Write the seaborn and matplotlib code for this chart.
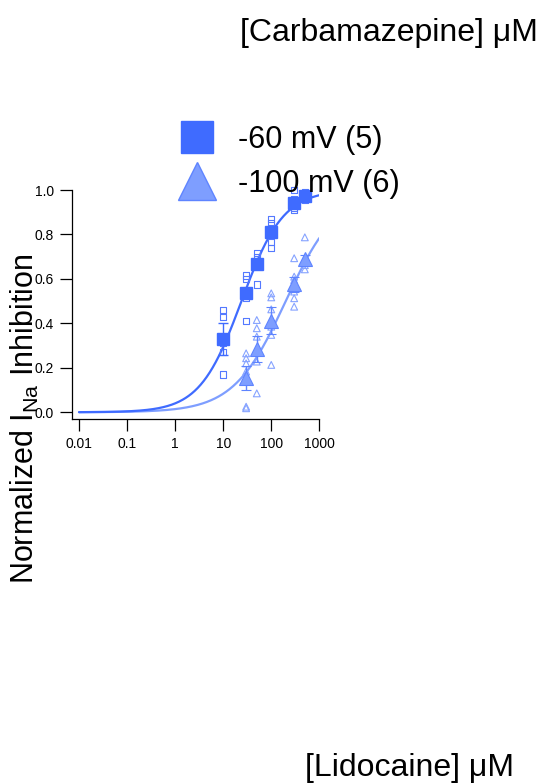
import numpy as np
import pandas as pd
import matplotlib
matplotlib.use("Agg")
import matplotlib.pyplot as plt
from matplotlib.lines import Line2D
import seaborn as sns

# ---- data -------------------------------------------------------------
conc_60 = [10, 30, 50, 100, 300, 500]          # lidocaine, uM
mean_60 = [0.328, 0.538, 0.668, 0.810, 0.943, 0.973]
sem_60 = [0.072, 0.020, 0.020, 0.020, 0.012, 0.008]
cells_60 = [
    [0.46, 0.43, 0.31, 0.27, 0.17],
    [0.615, 0.60, 0.55, 0.515, 0.41],
    [0.715, 0.70, 0.67, 0.66, 0.575],
    [0.87, 0.85, 0.83, 0.765, 0.74],
    [1.00, 0.96, 0.94, 0.92, 0.91],
    [0.99, 0.98, 0.975, 0.965, 0.955],
]

conc_100 = [30, 50, 100, 300, 500]
mean_100 = [0.155, 0.285, 0.412, 0.575, 0.688]
sem_100 = [0.055, 0.060, 0.062, 0.035, 0.020]
cells_100 = [
    [0.265, 0.243, 0.22, 0.183, 0.025, 0.018],
    [0.415, 0.378, 0.34, 0.273, 0.228, 0.085],
    [0.535, 0.517, 0.463, 0.385, 0.348, 0.213],
    [0.693, 0.61, 0.595, 0.543, 0.513, 0.475],
    [0.787, 0.69, 0.685, 0.68, 0.662, 0.643],
]

# Hill fit parameters (IC50 in uM, Hill coefficient)
ic50_60, hill_60 = 24.0, 1.0
ic50_100, hill_100 = 200.0, 0.8

labels = ["-60 mV (5)", "-100 mV (6)"]
x_ticks = [0.01, 0.1, 1, 10, 100, 1000]
x_ticklabels = ["0.01", "0.1", "1", "10", "100", "1000"]
y_ticks = [0.0, 0.2, 0.4, 0.6, 0.8, 1.0]
y_ticklabels = ["0.0", "0.2", "0.4", "0.6", "0.8", "1.0"]

# ---- style ------------------------------------------------------------
sns.set_theme(style="ticks")
plt.rcParams["font.family"] = ["Liberation Sans", "DejaVu Sans"]
plt.rcParams["mathtext.fontset"] = "custom"
plt.rcParams["mathtext.rm"] = "Liberation Sans"
plt.rcParams["mathtext.it"] = "Liberation Sans:italic"
plt.rcParams["text.color"] = "black"

c60 = "#3F6BFF"
c60_open = "#5479FF"
c100 = "#7E9EFF"
c100_edge = "#5E84FF"
c100_open = "#86A3FF"


def cells_frame(conc, cells):
    rows = [(c, v) for c, vals in zip(conc, cells) for v in vals]
    return pd.DataFrame(rows, columns=["conc", "inhib"])


def hill(x, ic50, n):
    r = (x / ic50) ** n
    return r / (1.0 + r)


grid = np.logspace(-2, 3, 400)
fit_60 = pd.DataFrame({"conc": grid, "inhib": hill(grid, ic50_60, hill_60)})
fit_100 = pd.DataFrame({"conc": grid, "inhib": hill(grid, ic50_100, hill_100)})

fig = plt.figure(figsize=(5.42, 7.84), dpi=100)
ax = fig.add_axes([72.3 / 542, 1 - 418.7 / 784, 247 / 542, 228.7 / 784])
ax.set_xscale("log")

# fitted dose-response curves
sns.lineplot(data=fit_100, x="conc", y="inhib", color=c100, lw=1.6, ax=ax, zorder=2)
sns.lineplot(data=fit_60, x="conc", y="inhib", color=c60, lw=1.6, ax=ax, zorder=2)

# individual cells (open symbols)
sns.scatterplot(data=cells_frame(conc_100, cells_100), x="conc", y="inhib",
                marker="^", s=24, facecolor="none", edgecolor=c100_open,
                linewidth=0.8, ax=ax, zorder=3, clip_on=False)
sns.scatterplot(data=cells_frame(conc_60, cells_60), x="conc", y="inhib",
                marker="s", s=20, facecolor="none", edgecolor=c60_open,
                linewidth=0.8, ax=ax, zorder=3, clip_on=False)

# means with SEM
ax.errorbar(conc_100, mean_100, yerr=sem_100, fmt="^", ms=10, mfc=c100,
            mec=c100_edge, mew=0.8, ecolor=c100_edge, elinewidth=1.0,
            capsize=3.5, capthick=1.0, zorder=5, clip_on=False)
ax.errorbar(conc_60, mean_60, yerr=sem_60, fmt="s", ms=8.2, mfc=c60,
            mec=c60, ecolor=c60, elinewidth=1.0, capsize=3.5, capthick=1.0,
            zorder=6, clip_on=False)

ax.set_xlim(10 ** -2.14, 1000)
ax.set_ylim(-0.029, 1.0)
ax.set_xticks(x_ticks)
ax.set_xticklabels(x_ticklabels)
ax.set_yticks(y_ticks)
ax.set_yticklabels(y_ticklabels)
ax.xaxis.set_minor_locator(matplotlib.ticker.NullLocator())
ax.set_xlabel("")
ax.set_ylabel("")
sns.despine(ax=ax)
for side in ("left", "bottom"):
    ax.spines[side].set_color("black")
    ax.spines[side].set_linewidth(0.9)
ax.tick_params(axis="both", direction="out", length=8.5, width=0.9,
               color="black", labelsize=10, labelcolor="black")
ax.tick_params(axis="x", pad=5)
ax.tick_params(axis="y", pad=4.5)
ax.set_facecolor("none")

# legend
handles = [
    Line2D([], [], ls="", marker="s", ms=23, mfc=c60, mec=c60),
    Line2D([], [], ls="", marker="^", ms=27, mfc=c100, mec=c100_edge, mew=1.0),
]
fig.legend(handles, labels, loc="upper left",
           bbox_to_anchor=(178.6 / 542, 1 - 125 / 784), frameon=False,
           fontsize=22, handlelength=1.2, handletextpad=0.74,
           labelspacing=0.46, borderpad=0, borderaxespad=0)

# axis titles
fig.text(538 / 542, 1 - 33 / 784, "[Carbamazepine] μM", ha="right",
         va="center", fontsize=23)
fig.text(514 / 542, 1 - 768 / 784, "[Lidocaine] μM", ha="right",
         va="center", fontsize=23)
fig.text(25 / 542, 1 - 418.5 / 784, r"Normalized I$_{\rm Na}$ Inhibition",
         rotation=90, ha="center", va="center", fontsize=22)

fig.savefig("out.png", dpi=100, facecolor="white")
